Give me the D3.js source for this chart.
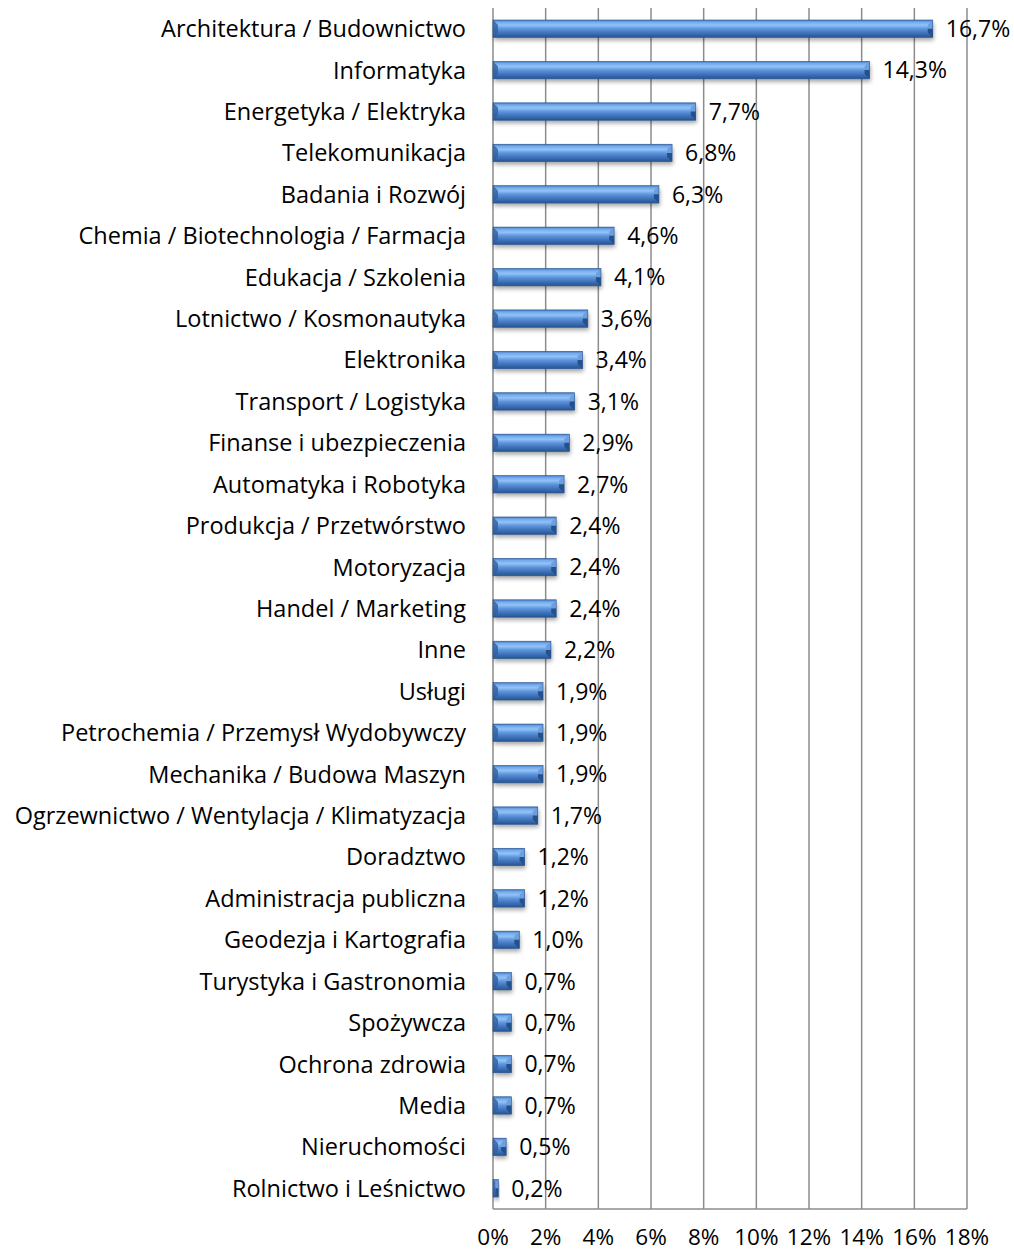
<!DOCTYPE html>
<html><head><meta charset="utf-8">
<script src="https://cdn.jsdelivr.net/npm/d3@7"></script>
<style>body{margin:0;background:#fff}svg{display:block}</style>
</head><body>
<script>
const categories = ["Architektura / Budownictwo","Informatyka","Energetyka / Elektryka","Telekomunikacja","Badania i Rozwój","Chemia / Biotechnologia / Farmacja","Edukacja / Szkolenia","Lotnictwo / Kosmonautyka","Elektronika","Transport / Logistyka","Finanse i ubezpieczenia","Automatyka i Robotyka","Produkcja / Przetwórstwo","Motoryzacja","Handel / Marketing","Inne","Usługi","Petrochemia / Przemysł Wydobywczy","Mechanika / Budowa Maszyn","Ogrzewnictwo / Wentylacja / Klimatyzacja","Doradztwo","Administracja publiczna","Geodezja i Kartografia","Turystyka i Gastronomia","Spożywcza","Ochrona zdrowia","Media","Nieruchomości","Rolnictwo i Leśnictwo"];
const values = [16.7,14.3,7.7,6.8,6.3,4.6,4.1,3.6,3.4,3.1,2.9,2.7,2.4,2.4,2.4,2.2,1.9,1.9,1.9,1.7,1.2,1.2,1.0,0.7,0.7,0.7,0.7,0.5,0.2];
const ticks = [0,2,4,6,8,10,12,14,16,18];
const fmt = v => v.toFixed(1).replace(".", ",") + "%";

const W = 1014, H = 1252;
const svg = d3.select("body").append("svg").attr("width", W).attr("height", H);
const font = "'Open Sans', sans-serif";
const x = d3.scaleLinear().domain([0, 18]).range([493, 967]);
const y = d3.scaleBand().domain(categories).range([8, 1209]).paddingInner(0.58).paddingOuter(0.29);

const defs = svg.append("defs");
const g1 = defs.append("linearGradient").attr("id","barg").attr("x1",0).attr("y1",0).attr("x2",0).attr("y2",1);
[[0,"#4078c4"],[0.12,"#74aaec"],[0.3,"#92c3f6"],[0.5,"#5e95dd"],[0.75,"#3f72bb"],[1,"#26548f"]].forEach(([o,c])=>g1.append("stop").attr("offset",o).attr("stop-color",c));
const f = defs.append("filter").attr("id","sh").attr("x","-10%").attr("y","-50%").attr("width","130%").attr("height","250%");
f.append("feGaussianBlur").attr("in","SourceAlpha").attr("stdDeviation",2.2);
f.append("feOffset").attr("dx",1).attr("dy",3).attr("result","b");
f.append("feComponentTransfer").append("feFuncA").attr("type","linear").attr("slope",0.35);
const m = f.append("feMerge"); m.append("feMergeNode"); m.append("feMergeNode").attr("in","SourceGraphic");

// gridlines
svg.append("g").selectAll("line").data(ticks).join("line")
  .attr("x1", d=>x(d)).attr("x2", d=>x(d)).attr("y1", 8).attr("y2", 1209)
  .attr("stroke", "#8c8c8c").attr("stroke-width", 1.5);
svg.append("line").attr("x1", x(0)).attr("x2", x(18)).attr("y1", 1209).attr("y2", 1209)
  .attr("stroke", "#8c8c8c").attr("stroke-width", 1.5);

// bars
const bh = y.bandwidth();
const bars = svg.append("g").selectAll("g").data(values).join("g")
  .attr("transform", (d,i)=>`translate(0,${y(categories[i])})`);
bars.append("rect").attr("x", x(0)).attr("y", 0).attr("width", d=>x(d)-x(0)).attr("height", bh)
  .attr("fill", "url(#barg)").attr("filter","url(#sh)");
const bw = 5;
bars.append("path").attr("d", d=>{
  const w = Math.min(bw, (x(d)-x(0))/2), x0 = x(0);
  return `M${x0},0 L${x0+w},${w} L${x0+w},${bh-w} L${x0},${bh} Z`;
}).attr("fill", "#2f5f9f").attr("opacity",0.8);
bars.append("path").attr("d", d=>{
  const w = Math.min(bw, (x(d)-x(0))/2), x1 = x(d);
  return `M${x1},0 L${x1-w},${w} L${x1-w},${bh/2} L${x1},${bh/2} Z`;
}).attr("fill", "#6d9fdf");
bars.append("path").attr("d", d=>{
  const w = Math.min(bw, (x(d)-x(0))/2), x1 = x(d);
  return `M${x1},${bh/2} L${x1-w},${bh/2} L${x1-w},${bh-w} L${x1},${bh} Z`;
}).attr("fill", "#24508c");
bars.append("rect").attr("x", x(0)).attr("y", 0).attr("width", d=>x(d)-x(0)).attr("height", bh)
  .attr("fill","none").attr("stroke","#2a5490").attr("stroke-width",0.6);

// value labels
svg.append("g").selectAll("text").data(values).join("text")
  .attr("x", d=>x(d)+13).attr("y", (d,i)=>y(categories[i])+bh/2).attr("dy","0.36em")
  .attr("font-family", font).attr("font-size", 23).attr("fill","#000").text(fmt);

// category labels
svg.append("g").selectAll("text").data(categories).join("text")
  .attr("x", 466).attr("y", d=>y(d)+bh/2).attr("dy","0.36em").attr("text-anchor","end")
  .attr("font-family", font).attr("font-size", 23.5).attr("fill","#000").text(d=>d);

// x tick labels
svg.append("g").selectAll("text").data(ticks).join("text")
  .attr("x", d=>x(d)).attr("y", 1245).attr("text-anchor","middle")
  .attr("font-family", font).attr("font-size", 22.5).attr("fill","#000").text(d=>d+"%");
</script>
</body></html>
